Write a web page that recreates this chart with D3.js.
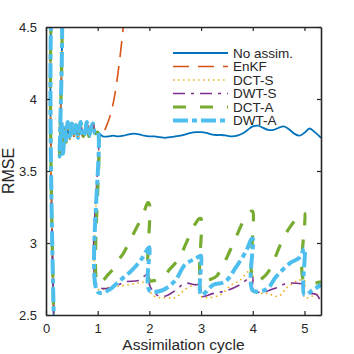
<!DOCTYPE html>
<html>
<head>
<meta charset="utf-8">
<script src="https://cdn.jsdelivr.net/npm/d3@7"></script>
<style>
  body { margin: 0; background: #fff; }
  text { font-family: "Liberation Sans", Arial, Helvetica, sans-serif; fill: #262626; }
</style>
</head>
<body>
<svg id="chart" width="354" height="354"></svg>
<script>
//// data, [assimilation cycle, RMSE]
const xTicks = [0, 1, 2, 3, 4, 5];
const yTicks = [2.5, 3, 3.5, 4, 4.5];
const seriesNames = ["No assim.", "EnKF", "DCT-S", "DWT-S", "DCT-A", "DWT-A"];

// first cycle is the same for every run
const spinup = [[0.17,2.2],[0.185,4.9],[0.25,4.9],[0.265,3.6],[0.3,3.84],[0.33,3.62],[0.36,3.8],[0.39,3.7],
  [0.42,3.84],[0.46,3.72],[0.5,3.83],[0.54,3.74],[0.58,3.82],[0.62,3.73],[0.67,3.84],[0.71,3.74],[0.75,3.76],
  [0.79,3.84],[0.83,3.74],[0.87,3.8],[0.91,3.83],[0.95,3.76],[1.0,3.77]];

const noAssim = [[1.1,3.74],[1.2,3.74],[1.3,3.745],[1.4,3.74],[1.5,3.745],[1.6,3.755],[1.7,3.76],[1.8,3.755],
  [1.9,3.745],[2.0,3.74],[2.1,3.74],[2.2,3.735],[2.3,3.73],[2.4,3.735],[2.5,3.74],[2.6,3.745],[2.7,3.755],
  [2.8,3.765],[2.9,3.77],[3.0,3.77],[3.1,3.765],[3.2,3.755],[3.3,3.75],[3.4,3.75],[3.5,3.745],[3.6,3.74],
  [3.7,3.745],[3.8,3.76],[3.9,3.785],[4.0,3.81],[4.1,3.815],[4.2,3.8],[4.3,3.785],[4.4,3.785],[4.5,3.8],
  [4.6,3.81],[4.7,3.79],[4.8,3.76],[4.9,3.745],[5.0,3.765],[5.1,3.795],[5.2,3.77],[5.32,3.73]];

const enkf = [[1.1,3.77],[1.2,3.84],[1.3,3.97],[1.4,4.2],[1.5,4.52],[1.6,4.9]];

const dctS = [[1.001,2.68],[1.2,2.69],[1.4,2.7],[1.6,2.71],[1.75,2.72],[1.9,2.73],[2.0,2.74],
  [2.001,2.67],[2.1,2.63],[2.2,2.62],[2.35,2.62],[2.5,2.62],[2.7,2.68],[2.88,2.71],[3.0,2.72],
  [3.001,2.63],[3.1,2.62],[3.37,2.64],[3.59,2.71],[3.75,2.74],[3.91,2.8],[4.0,2.8],
  [4.001,2.66],[4.27,2.65],[4.5,2.63],[4.66,2.69],[4.88,2.74],[5.0,2.74],
  [5.001,2.62],[5.15,2.63],[5.32,2.65]];

const dwtS = [[1.001,2.7],[1.27,2.69],[1.53,2.73],[1.79,2.74],[1.95,2.78],[2.0,2.77],
  [2.001,2.71],[2.14,2.64],[2.3,2.63],[2.5,2.67],[2.69,2.72],[2.88,2.71],[3.0,2.71],
  [3.001,2.63],[3.24,2.65],[3.5,2.67],[3.75,2.71],[3.95,2.76],[4.0,2.76],
  [4.001,2.67],[4.2,2.66],[4.46,2.69],[4.66,2.72],[4.85,2.72],[5.0,2.71],
  [5.001,2.66],[5.24,2.64],[5.32,2.58]];

const dctA = [[1.001,2.72],[1.1,2.74],[1.2,2.78],[1.3,2.82],[1.4,2.88],[1.5,2.93],[1.6,3.0],[1.7,3.07],
  [1.8,3.14],[1.9,3.22],[1.97,3.28],[2.0,3.27],
  [2.001,2.74],[2.1,2.74],[2.2,2.76],[2.3,2.78],[2.4,2.82],[2.5,2.86],[2.6,2.91],[2.7,2.99],[2.8,3.07],
  [2.9,3.14],[2.97,3.17],[3.0,3.17],
  [3.001,2.74],[3.1,2.74],[3.2,2.75],[3.3,2.77],[3.4,2.83],[3.5,2.9],[3.6,2.98],[3.7,3.06],[3.8,3.14],
  [3.9,3.19],[3.97,3.22],[4.0,3.22],
  [4.001,2.74],[4.1,2.74],[4.2,2.76],[4.3,2.8],[4.4,2.87],[4.5,2.96],[4.6,3.04],[4.7,3.1],[4.8,3.15],
  [4.9,3.19],[4.97,3.21],[5.0,3.21],
  [5.001,2.73],[5.32,2.73]];

const dwtA = [[1.001,2.66],[1.2,2.67],[1.43,2.74],[1.66,2.81],[1.85,2.89],[1.97,2.96],[2.0,2.97],
  [2.001,2.67],[2.24,2.67],[2.5,2.74],[2.69,2.85],[2.88,2.89],[2.98,2.91],[3.0,2.91],
  [3.001,2.64],[3.24,2.71],[3.46,2.73],[3.69,2.84],[3.88,2.95],[3.98,3.03],[4.0,3.03],
  [4.001,2.67],[4.27,2.68],[4.46,2.77],[4.72,2.86],[4.91,2.9],[5.0,2.96],
  [5.001,2.64],[5.15,2.67],[5.32,2.71]];

const seriesValues = [
  spinup.concat(noAssim),
  spinup.concat(enkf),
  spinup.concat(dctS),
  spinup.concat(dwtS),
  spinup.concat(dctA),
  spinup.concat(dwtA)
];

//// looks (matlab default colour order)
const styles = [
  {color: "#0072BD", width: 1.8, dash: null},
  {color: "#D95319", width: 1.6, dash: "16,9"},
  {color: "#EDB120", width: 1.6, dash: "1.6,3.4"},
  {color: "#7E2F8E", width: 1.6, dash: "12,6,3,6"},
  {color: "#77AC30", width: 3.2, dash: "13,14"},
  {color: "#4DBEEE", width: 4, dash: "15,4,5,4"}
];

const svg = d3.select("#chart");
const padL = 46, padR = 321, padT = 27, padB = 315;

const x = d3.scaleLinear().domain([0, 5.32]).range([padL, padR]);
const y = d3.scaleLinear().domain([2.5, 4.5]).range([padB, padT]);

svg.append("clipPath").attr("id", "clip")
  .append("rect").attr("x", padL).attr("y", padT)
  .attr("width", padR - padL).attr("height", padB - padT);

const line = d3.line()
  .x(d => x(d[0]))
  .y(d => y(d[1]))
  .curve(d3.curveCatmullRom.alpha(0.5));

svg.append("g").attr("clip-path", "url(#clip)")
  .selectAll("path")
  .data(seriesValues)
  .join("path")
    .attr("d", line)
    .attr("fill", "none")
    .attr("stroke", (d, i) => styles[i].color)
    .attr("stroke-width", (d, i) => styles[i].width)
    .attr("stroke-dasharray", (d, i) => styles[i].dash)
    .attr("stroke-linejoin", "round");

// axes, ticks inside on all four sides
const tk = 4;
svg.append("g").attr("transform", `translate(0,${padB})`)
  .call(d3.axisBottom(x).tickValues(xTicks).tickFormat(d3.format("d")).tickSizeInner(-tk).tickSizeOuter(0).tickPadding(9));
svg.append("g").attr("transform", `translate(0,${padT})`)
  .call(d3.axisTop(x).tickValues(xTicks).tickFormat("").tickSizeInner(-tk).tickSizeOuter(0));
svg.append("g").attr("transform", `translate(${padL},0)`)
  .call(d3.axisLeft(y).tickValues(yTicks).tickFormat(d => d).tickSizeInner(-tk).tickSizeOuter(0).tickPadding(9));
svg.append("g").attr("transform", `translate(${padR},0)`)
  .call(d3.axisRight(y).tickValues(yTicks).tickFormat("").tickSizeInner(-tk).tickSizeOuter(0));

svg.selectAll(".domain").attr("stroke", "#262626").attr("stroke-width", 1.6);
svg.selectAll(".tick line").attr("stroke", "#262626").attr("stroke-width", 1.2);
svg.selectAll(".tick text").attr("font-size", 13).attr("fill", "#262626")
  .attr("font-family", "Liberation Sans, Arial, sans-serif");

svg.append("text")
  .attr("x", (padL + padR) / 2).attr("y", 350)
  .attr("text-anchor", "middle").attr("font-size", 15.5)
  .text("Assimilation cycle");

svg.append("text")
  .attr("transform", `translate(14,${(padT + padB) / 2}) rotate(-90)`)
  .attr("text-anchor", "middle").attr("font-size", 16)
  .text("RMSE");

//// legend (no box)
const leg = svg.append("g").selectAll("g")
  .data(seriesNames)
  .join("g")
  .attr("transform", (d, i) => `translate(173,${53 + i * 13.5})`);

leg.append("line")
  .attr("x1", 0).attr("x2", 55)
  .attr("stroke", (d, i) => styles[i].color)
  .attr("stroke-width", (d, i) => styles[i].width)
  .attr("stroke-dasharray", (d, i) => styles[i].dash);

leg.append("text")
  .attr("x", 60).attr("dy", "0.35em")
  .attr("font-size", 13.5)
  .text(d => d);
</script>
</body>
</html>
